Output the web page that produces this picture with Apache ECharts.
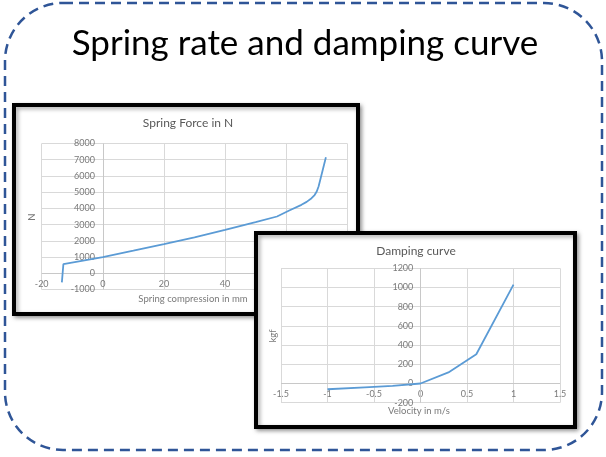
<!DOCTYPE html>
<html>
<head>
<meta charset="utf-8">
<script src="https://cdn.jsdelivr.net/npm/echarts@6/dist/echarts.min.js"></script>
<style>
html,body{margin:0;padding:0;background:#fff;}
#c{width:606px;height:457px;}
</style>
</head>
<body>
<div id="c"></div>
<script>
// Spring force chart data
var springX = [-13.4, -12.9, 0, 10, 20, 30, 40, 50, 57, 61, 65, 66.7, 68.3, 69.3, 70, 70.6, 71.2, 72, 73];
var springY = [-560, 570, 1000, 1390, 1800, 2220, 2670, 3150, 3500, 3870, 4220, 4400, 4630, 4820, 5040, 5350, 5800, 6400, 7150];
// Damping curve data
var dampX = [-1, -0.6, -0.3, 0, 0.3, 0.6, 1];
var dampY = [-60, -40, -25, 0, 115, 305, 1030];

var slideTitle = 'Spring rate and damping curve';
var springTitle = 'Spring Force in N';
var springXName = 'Spring compression in mm';
var springYName = 'N';
var dampTitle = 'Damping curve';
var dampXName = 'Velocity in m/s';
var dampYName = 'kgf';

function zip(a, b) { return a.map(function (v, i) { return [v, b[i]]; }); }

var FONT = 'Lato';
var labelColor = '#7a7a7a';
var gridColor = '#d9d9d9';
var lineColor = '#5b9bd5';

function axis(gridIndex, min, max, interval, z, margin) {
  return {
    type: 'value', gridIndex: gridIndex, min: min, max: max, interval: interval, z: z,
    axisLine: { show: false, onZero: false },
    axisTick: { show: false },
    splitLine: { show: true, lineStyle: { color: gridColor, width: 1 } },
    axisLabel: { color: labelColor, fontFamily: FONT, fontSize: 9, margin: margin,
      formatter: function (v) { return String(v); } }
  };
}

var zeroLine = function (z) {
  return {
    z: z, silent: true, symbol: 'none', label: { show: false },
    lineStyle: { color: '#c8c8c8', width: 1, type: 'solid' },
    data: [{ xAxis: 0 }, { yAxis: 0 }]
  };
};

var chart = echarts.init(document.getElementById('c'), null, { renderer: 'canvas' });
chart.setOption({
  animation: false,
  backgroundColor: '#fff',
  grid: [
    { left: 41.7, top: 143.5, width: 305.6, height: 146, z: 1 },
    { left: 281, top: 268.3, width: 279, height: 134.4, z: 6 }
  ],
  xAxis: [
    axis(0, -20, 80, 20, 1, -10),
    axis(1, -1.5, 1.5, 0.5, 6, -13.5)
  ],
  yAxis: [
    axis(0, -1000, 8000, 1000, 1, -53.3),
    axis(1, -200, 1200, 200, 6, -132.3)
  ],
  series: [
    { type: 'line', xAxisIndex: 0, yAxisIndex: 0, data: zip(springX, springY), showSymbol: false, symbol: 'none',
      lineStyle: { color: lineColor, width: 1.8 }, z: 2, markLine: zeroLine(1) },
    { type: 'line', xAxisIndex: 1, yAxisIndex: 1, data: zip(dampX, dampY), showSymbol: false, symbol: 'none',
      lineStyle: { color: lineColor, width: 1.8 }, z: 8, markLine: zeroLine(7) }
  ],
  graphic: [
    { type: 'rect', z: -1, shape: { x: 5, y: 3, width: 597, height: 447, r: 58 },
      style: { fill: null, stroke: '#2f5597', lineWidth: 2.5, lineDash: [10, 6] } },
    { type: 'text', z: 0, style: { x: 305, y: 44, text: slideTitle, fontFamily: FONT, fontSize: 35,
      fill: '#000', textAlign: 'center', textVerticalAlign: 'middle' } },
    { type: 'rect', z: 0, shape: { x: 14, y: 105, width: 344, height: 209 },
      style: { fill: '#fff', stroke: '#000', lineWidth: 4, shadowBlur: 4, shadowOffsetX: 2, shadowOffsetY: 2, shadowColor: 'rgba(0,0,0,0.35)' } },
    { type: 'text', z: 1, style: { x: 188, y: 123, text: springTitle, fontFamily: FONT, fontSize: 12,
      fill: '#595959', textAlign: 'center', textVerticalAlign: 'middle' } },
    { type: 'text', z: 1, style: { x: 193, y: 299, text: springXName, fontFamily: FONT, fontSize: 9.5,
      fill: labelColor, textAlign: 'center', textVerticalAlign: 'middle' } },
    { type: 'text', z: 1, x: 32, y: 217, rotation: Math.PI / 2, style: { x: 0, y: 0, text: springYName, fontFamily: FONT, fontSize: 9.5,
      fill: labelColor, textAlign: 'center', textVerticalAlign: 'middle' } },
    { type: 'rect', z: 5, shape: { x: 256, y: 233, width: 319, height: 194 },
      style: { fill: '#fff', stroke: '#000', lineWidth: 4, shadowBlur: 4, shadowOffsetX: 2, shadowOffsetY: 2, shadowColor: 'rgba(0,0,0,0.35)' } },
    { type: 'text', z: 6, style: { x: 416, y: 251, text: dampTitle, fontFamily: FONT, fontSize: 12,
      fill: '#595959', textAlign: 'center', textVerticalAlign: 'middle' } },
    { type: 'text', z: 6, style: { x: 419, y: 411, text: dampXName, fontFamily: FONT, fontSize: 9.5,
      fill: labelColor, textAlign: 'center', textVerticalAlign: 'middle' } },
    { type: 'text', z: 6, x: 273, y: 336, rotation: Math.PI / 2, style: { x: 0, y: 0, text: dampYName, fontFamily: FONT, fontSize: 9.5,
      fill: labelColor, textAlign: 'center', textVerticalAlign: 'middle' } }
  ]
});
</script>
</body>
</html>
